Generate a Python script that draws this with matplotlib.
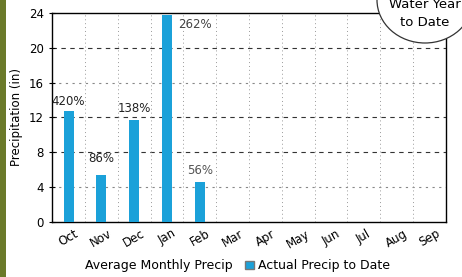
import matplotlib.pyplot as plt
import matplotlib.patches as mpatches
import numpy as np

# données
months = ["Oct", "Nov", "Dec", "Jan", "Feb", "Mar", "Apr", "May", "Jun", "Jul", "Aug", "Sep"]
actual = [12.7, 5.4, 11.7, 23.8, 4.5, 0, 0, 0, 0, 0, 0, 0]
pct_labels = ["420%", "86%", "138%", "262%", "56%"]
yticks = [0, 4, 8, 12, 16, 20, 24]

blue = "#1ba1d9"

fig = plt.figure(figsize=(4.62, 2.77), dpi=100)
ax = fig.add_axes([0.113, 0.2, 0.852, 0.753])

x = np.arange(len(months))
ax.bar(x, actual, width=0.3, color=blue, zorder=3)

ax.set_xlim(-0.5, len(months) - 0.5)
ax.set_ylim(0, 24)
ax.set_yticks(yticks)
ax.set_xticks(x)
ax.set_xticklabels(months, rotation=30, fontsize=8.5)
ax.tick_params(axis="y", labelsize=8.5, direction="inout", length=5)
ax.tick_params(axis="x", length=0, pad=4)
ax.set_ylabel("Precipitation (in)", fontsize=8.5)

# grille
for v in [20, 12, 8]:
    ax.axhline(v, color="#333333", lw=0.8, ls=(0, (4, 4)), zorder=1)
for v in [16, 4]:
    ax.axhline(v, color="#888888", lw=0.8, ls=(0, (2, 4)), zorder=1)
for b in x[1:] - 0.5:
    ax.axvline(b, color="#999999", lw=0.7, ls=(0, (1, 3)), zorder=1)

for s in ax.spines.values():
    s.set_linewidth(1.0)

# étiquettes de pourcentage
ax.text(0, actual[0] + 0.4, pct_labels[0], ha="center", va="bottom", fontsize=8.5, color="#222222")
ax.text(1, 7.3, pct_labels[1], ha="center", va="center", fontsize=8.5, color="#222222")
ax.text(2, actual[2] + 0.6, pct_labels[2], ha="center", va="bottom", fontsize=8.5, color="#222222")
ax.text(3.35, 21.9, pct_labels[3], ha="left", va="bottom", fontsize=8.5, color="#444444")
ax.text(4, actual[4] + 0.6, pct_labels[4], ha="center", va="bottom", fontsize=8.5, color="#555555")

# légende
handles = [mpatches.Patch(facecolor="none", edgecolor="none"),
           mpatches.Patch(facecolor=blue, edgecolor="#777777")]
fig.legend(handles, ["Average Monthly Precip", "Actual Precip to Date"],
           loc="center", bbox_to_anchor=(0.5, 0.04), ncol=2, frameon=False,
           fontsize=9, handlelength=0.7, handleheight=0.7, handletextpad=0.3,
           columnspacing=1.0)

# bulle "Water Year to Date"
ell = mpatches.Ellipse((425 / 462, 1.0), 96 / 462, 86 / 277, transform=fig.transFigure,
                       facecolor="white", edgecolor="#333333", lw=0.9, zorder=5)
fig.patches.append(ell)
fig.text(425 / 462, 1 - 5 / 277, "Water Year", ha="center", va="center", fontsize=9.5, zorder=6)
fig.text(425 / 462, 1 - 22 / 277, "to Date", ha="center", va="center", fontsize=9.5, zorder=6)

# bord gauche du scan
fig.patches.append(mpatches.Rectangle((0, 0), 6 / 462, 1, transform=fig.transFigure,
                                      facecolor="#6b7a2a", edgecolor="none"))

fig.savefig("out.png", dpi=100)
